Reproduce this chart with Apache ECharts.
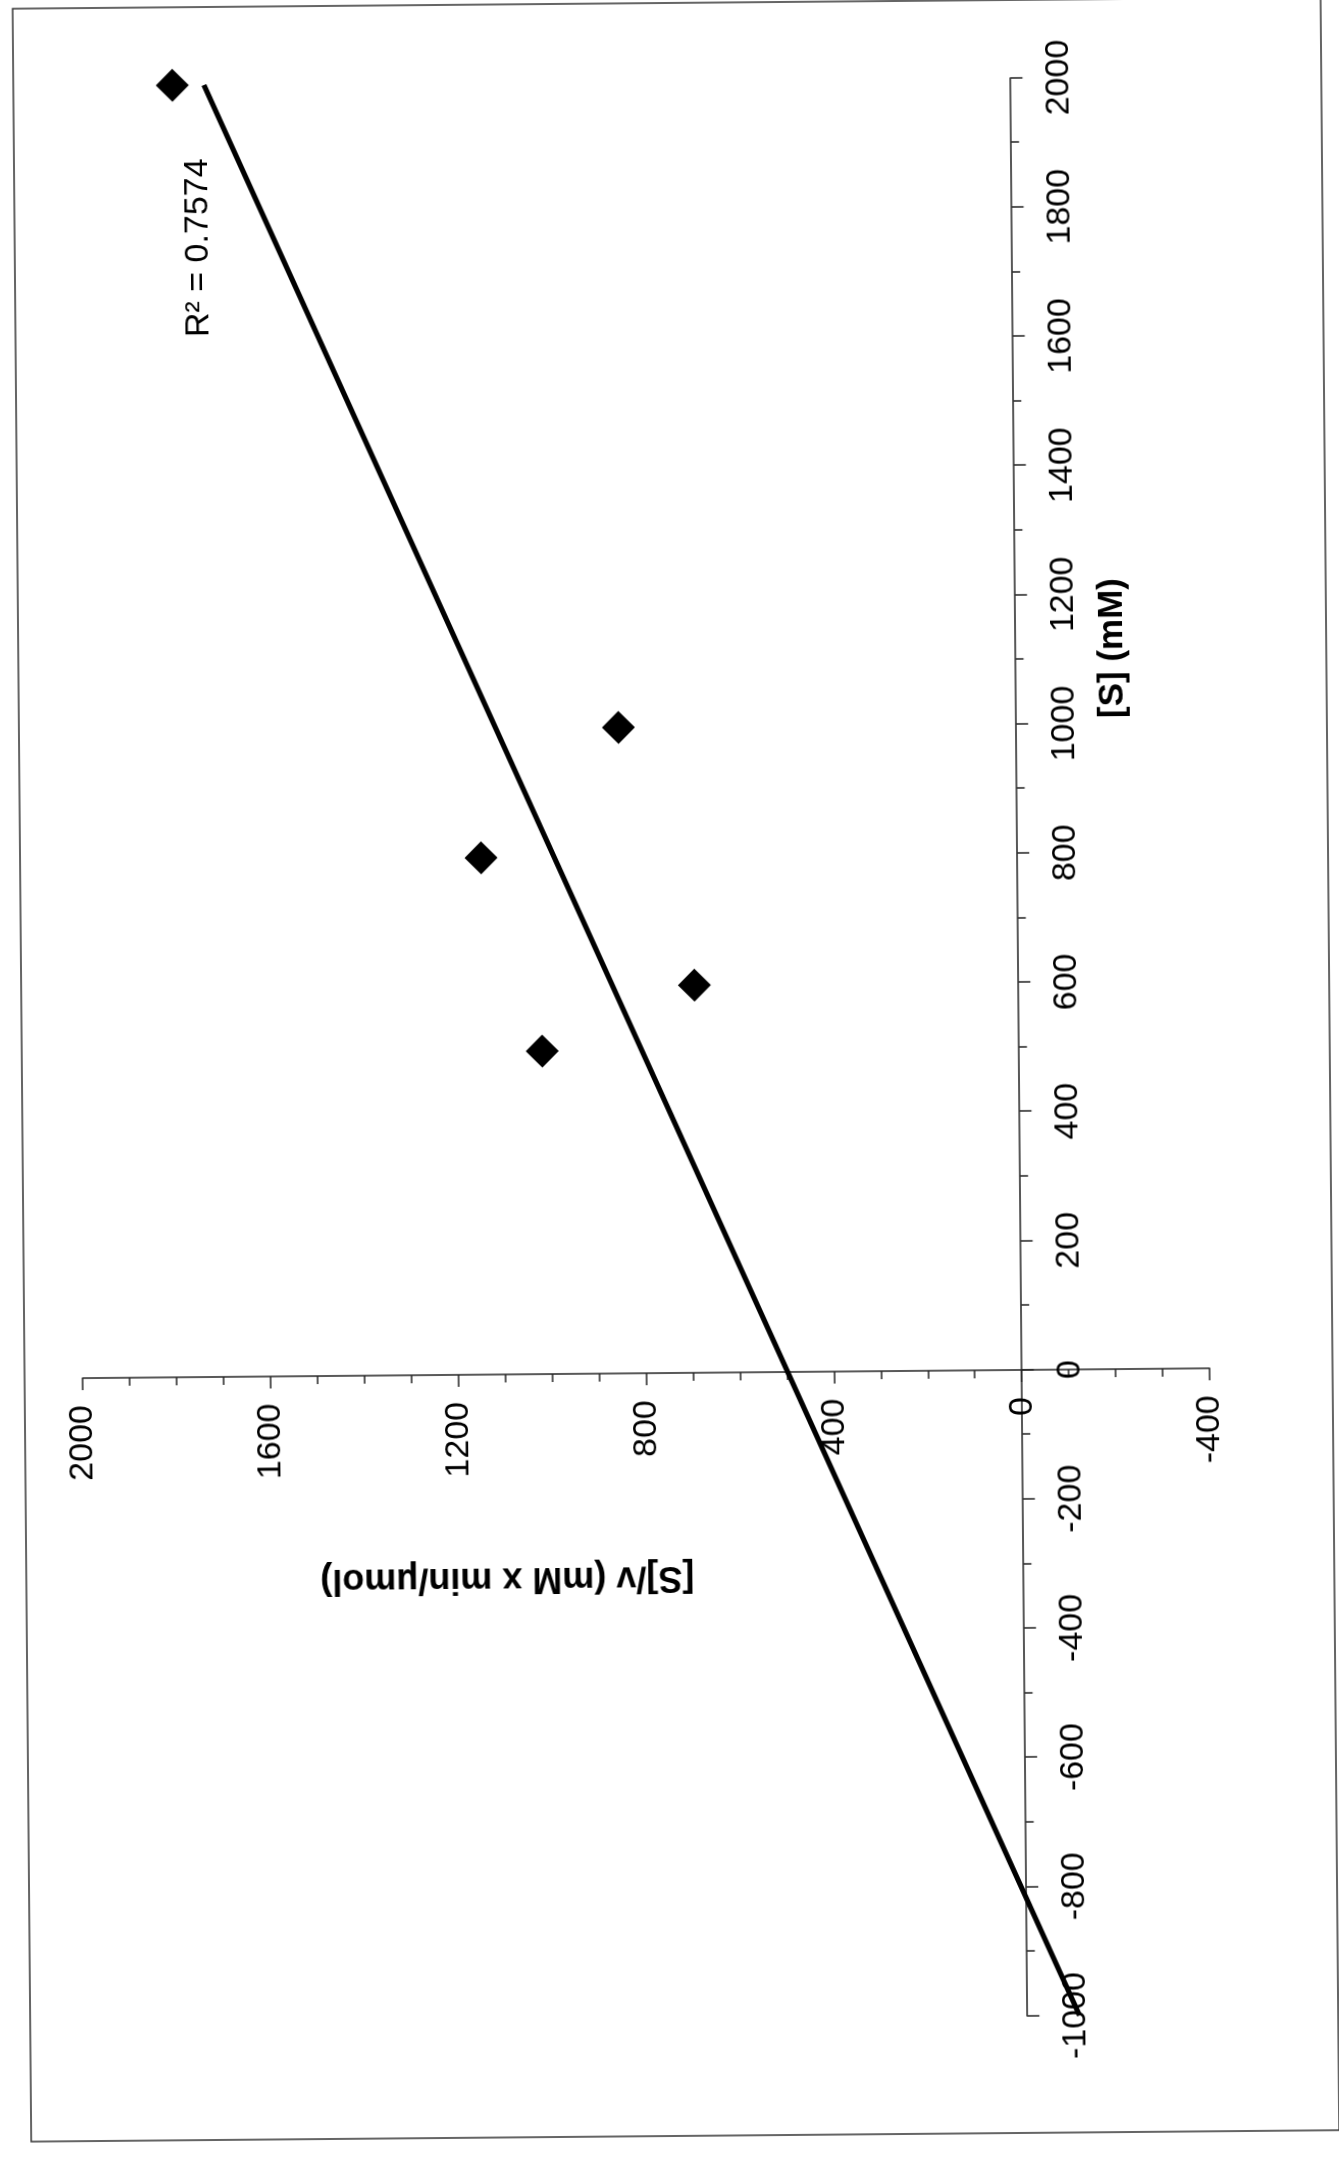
<!DOCTYPE html>
<html>
<head>
<meta charset="utf-8">
<title>Hanes-Woolf plot</title>
<script src="https://cdn.jsdelivr.net/npm/echarts@6/dist/echarts.min.js"></script>
<style>
  html, body { margin: 0; padding: 0; background: #fff; overflow: hidden; }
  body { width: 1339px; height: 2161px; position: relative; }
  /* The plot is laid out in landscape and turned onto the portrait page */
  #chart {
    position: absolute;
    width: 2161px;
    height: 1339px;
    left: -411px;
    top: 411px;
    transform-origin: 50% 50%;
    transform: rotate(-90.5deg);
    background: #fff;
  }
</style>
</head>
<body>
<div id="chart"></div>
<script>
// Substrate concentration [S] (mM) and [S]/v (mM x min/µmol)
const substrate = [500, 600, 800, 1000, 2000];
const sOverV = [1015, 690, 1142, 847, 1785];

// Axis ranges: [min, max, major step, minor divisions]
const sAxis = [-1000, 2000, 200, 2];
const svAxis = [-400, 2000, 400, 4];

// Extent of the fitted trendline (forecast back to -1000)
const trendExtent = [-1000, 2000];
const r2Label = 'R\u00B2 = 0.7574';
const xTitle = '[S] (mM)';
const yTitle = '[S]/v (mM x min/\u03BCmol)';

// Least-squares line through the points
function linearFit(xs, ys) {
  const n = xs.length;
  const mx = xs.reduce((a, b) => a + b, 0) / n;
  const my = ys.reduce((a, b) => a + b, 0) / n;
  let sxy = 0, sxx = 0;
  for (let i = 0; i < n; i++) {
    sxy += (xs[i] - mx) * (ys[i] - my);
    sxx += (xs[i] - mx) * (xs[i] - mx);
  }
  const slope = sxy / sxx;
  return { slope, intercept: my - slope * mx };
}
const fit = linearFit(substrate, sOverV);
const trendData = trendExtent.map(x => [x, fit.intercept + fit.slope * x]);
const points = substrate.map((s, i) => [s, sOverV[i]]);

const FONT = '"Liberation Sans", Arial, Helvetica, sans-serif';
const axisColor = '#222';
const GRID = { left: 142, right: 81, top: 80, bottom: 132 };
const plain = v => String(v);

const chart = echarts.init(document.getElementById('chart'), null, { renderer: 'canvas' });

function axisCommon(range, labelMargin) {
  return {
    type: 'value',
    min: range[0], max: range[1], interval: range[2],
    splitLine: { show: false },
    axisLine: { onZero: false, lineStyle: { color: axisColor, width: 1.5 } },
    axisTick: { length: 12, lineStyle: { color: axisColor, width: 1.5 } },
    minorTick: { show: true, splitNumber: range[3], length: 8, lineStyle: { color: axisColor, width: 1.5 } },
    axisLabel: { fontSize: 34, color: '#000', margin: labelMargin, fontFamily: FONT, formatter: plain }
  };
}

const option = {
  animation: false,
  backgroundColor: '#fff',
  grid: Object.assign({ outerBoundsMode: 'none' }, GRID),
  xAxis: Object.assign(axisCommon(sAxis, 31), { position: 'bottom' }),
  yAxis: Object.assign(axisCommon(svAxis, 27), { position: 'left' }),
  series: [
    {
      name: 'trend',
      type: 'line',
      data: trendData,
      showSymbol: false,
      lineStyle: { color: '#000', width: 5 },
      z: 2
    },
    {
      name: '[S]/v',
      type: 'scatter',
      data: points,
      symbol: 'diamond',
      symbolSize: 33,
      itemStyle: { color: '#000', opacity: 1 },
      z: 3
    }
  ],
  graphic: [
    {
      type: 'rect',
      shape: { x: 25, y: 22, width: 2133, height: 1308 },
      style: { fill: null, stroke: '#333', lineWidth: 1.5 },
      silent: true
    },
    {
      type: 'text',
      x: 1828, y: 206,
      style: { text: r2Label, font: '34px ' + FONT, fill: '#000', align: 'left', verticalAlign: 'middle' }
    },
    {
      type: 'text',
      x: 1509, y: 1116,
      style: { text: xTitle, font: 'bold 35px ' + FONT, fill: '#000', align: 'center', verticalAlign: 'middle' }
    },
    {
      type: 'text',
      x: 584, y: 503,
      rotation: Math.PI / 2,
      style: { text: yTitle, font: 'bold 36px ' + FONT, fill: '#000', align: 'center', verticalAlign: 'middle' }
    }
  ]
};

chart.setOption(option);

// Move each axis (line, ticks and labels together) onto the other axis's zero
const origin = chart.convertToPixel({ gridIndex: 0 }, [0, 0]);
chart.setOption({
  xAxis: { offset: -(chart.getHeight() - GRID.bottom - origin[1]) },
  yAxis: { offset: -(origin[0] - GRID.left) }
});
</script>
</body>
</html>
